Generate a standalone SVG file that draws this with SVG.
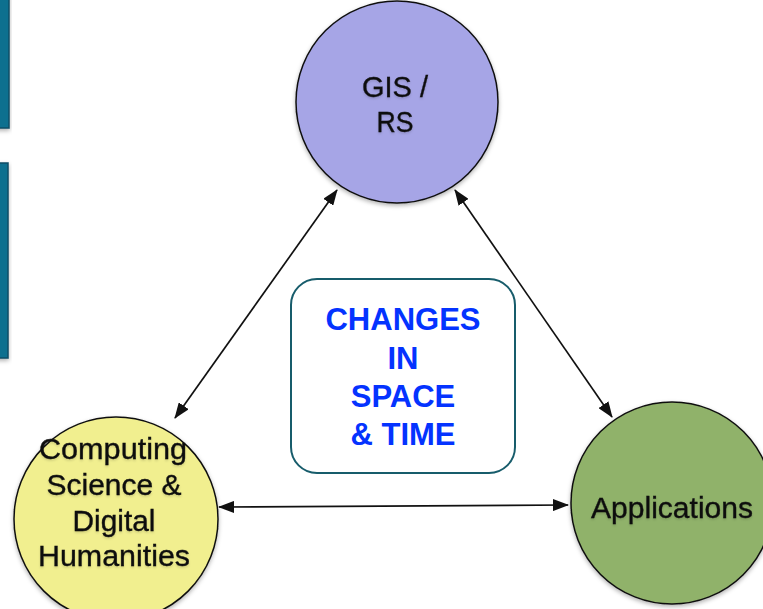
<svg xmlns="http://www.w3.org/2000/svg" width="763" height="609" viewBox="0 0 763 609">
  <style>
    .label { font-family: "Liberation Sans", Arial, Helvetica, sans-serif; font-size: 29px; fill: #111; stroke: #111; stroke-width: 0.35; text-anchor: middle; }
    .topic { font-family: "Liberation Sans", Arial, Helvetica, sans-serif; font-size: 31px; font-weight: bold; fill: #0433ff; text-anchor: middle; }
    .node { stroke: #111; stroke-width: 1.5; }
    .edge { stroke: #111; stroke-width: 1.7; fill: none; marker-start: url(#arrow); marker-end: url(#arrow); }
    .side { fill: #0b6f8f; stroke: #0a4e66; stroke-width: 1.5; }
  </style>
  <defs>
    <marker id="arrow" viewBox="0 0 16 12" refX="15" refY="6" markerWidth="16" markerHeight="12" markerUnits="userSpaceOnUse" orient="auto-start-reverse">
      <path d="M0,0 L16,6 L0,12 Z" fill="#111"/>
    </marker>
    <filter id="shadow" x="-20%" y="-20%" width="140%" height="140%">
      <feDropShadow dx="0" dy="2" stdDeviation="2" flood-color="#000" flood-opacity="0.3"/>
    </filter>
    <filter id="textShadow" x="-10%" y="-20%" width="120%" height="150%">
      <feDropShadow dx="0" dy="1.5" stdDeviation="1" flood-color="#000" flood-opacity="0.15"/>
    </filter>
  </defs>

  <!-- side panels cut off at the left edge -->
  <g id="side-panels" filter="url(#shadow)">
    <rect class="side" x="-6" y="-6" width="15" height="134"/>
    <rect class="side" x="-6" y="163" width="14" height="195"/>
  </g>

  <!-- connectors -->
  <g id="connectors">
    <line class="edge" x1="337" y1="190" x2="175" y2="418"/>
    <line class="edge" x1="455" y1="190" x2="612" y2="417"/>
    <line class="edge" x1="219" y1="507" x2="568" y2="505"/>
  </g>

  <g id="gis-rs">
    <circle class="node" cx="397" cy="102" r="101" fill="#a6a5e6" filter="url(#shadow)"/>
    <g filter="url(#textShadow)">
      <text class="label" x="395" y="97" textLength="66" lengthAdjust="spacingAndGlyphs">GIS /</text>
      <text class="label" x="395" y="132" textLength="37" lengthAdjust="spacingAndGlyphs">RS</text>
    </g>
  </g>

  <g id="computing">
    <circle class="node" cx="116" cy="519" r="102" fill="#f1ef8f" filter="url(#shadow)"/>
    <g filter="url(#textShadow)">
      <text class="label" x="113" y="459" textLength="148" lengthAdjust="spacingAndGlyphs">Computing</text>
      <text class="label" x="114" y="495" textLength="135" lengthAdjust="spacingAndGlyphs">Science &amp;</text>
      <text class="label" x="114" y="531" textLength="83" lengthAdjust="spacingAndGlyphs">Digital</text>
      <text class="label" x="114" y="566" textLength="152" lengthAdjust="spacingAndGlyphs">Humanities</text>
    </g>
  </g>

  <g id="applications">
    <circle class="node" cx="672" cy="503" r="101" fill="#90b26a" filter="url(#shadow)"/>
    <text class="label" x="672" y="518" textLength="162" lengthAdjust="spacingAndGlyphs" filter="url(#textShadow)">Applications</text>
  </g>

  <g id="changes">
    <rect x="291" y="279" width="224" height="194" rx="26" ry="26" fill="#fff" stroke="#175c6b" stroke-width="2"/>
    <text class="topic" x="403" y="330">CHANGES</text>
    <text class="topic" x="403" y="369">IN</text>
    <text class="topic" x="403" y="407">SPACE</text>
    <text class="topic" x="403" y="445">&amp; TIME</text>
  </g>
</svg>
